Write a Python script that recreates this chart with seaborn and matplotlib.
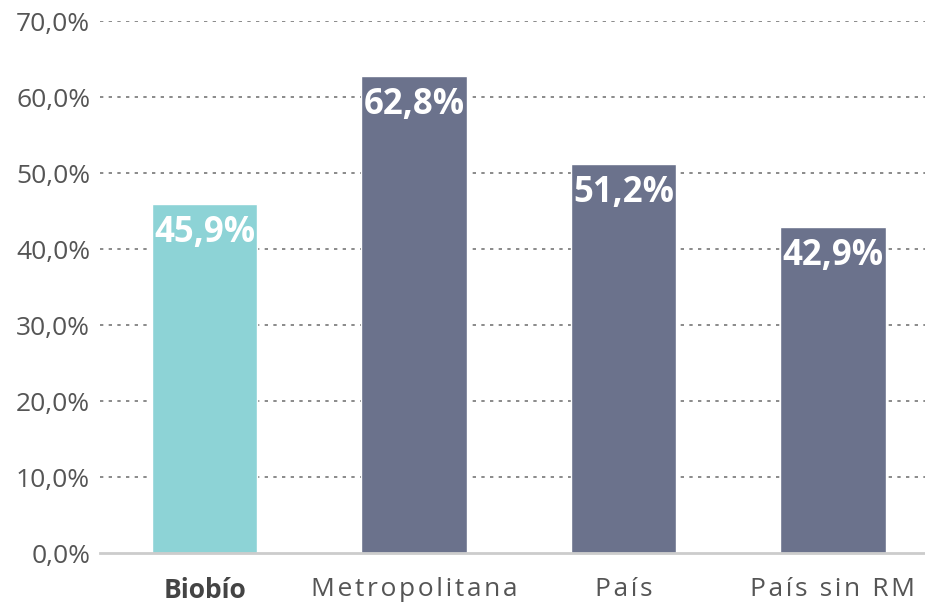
import matplotlib
matplotlib.use("Agg")
import matplotlib.pyplot as plt
import matplotlib.ticker as mticker
import seaborn as sns
import pandas as pd

# ─── Datos ────────────────────────────────────────────────────────────────────
CATEGORIAS = ["Biobío", "Metropolitana", "País", "País sin RM"]
VALORES    = [45.9, 62.8, 51.2, 42.9]
COLORES    = ["#8DD3D6", "#6B728C", "#6B728C", "#6B728C"]
TICKS_Y    = [0, 10, 20, 30, 40, 50, 60, 70]

HAIR = "\u200a"   # espacio fino para imitar el tracking del original

sns.set_theme(style="white")
plt.rcParams["font.family"] = ["Open Sans", "DejaVu Sans"]

df = pd.DataFrame({"region": CATEGORIAS, "valor": VALORES})

fig = plt.figure(figsize=(9.25, 6.04), dpi=100)
ax = fig.add_axes([0.108, 0.0844, 0.892, 0.8808])

sns.barplot(data=df, x="region", y="valor", hue="region",
            palette=COLORES, width=0.505, saturation=1,
            legend=False, ax=ax, zorder=3)

ax.set_ylim(0, 70)
ax.set_xlim(-0.5, 3.44)
ax.set_yticks(TICKS_Y)
ax.yaxis.set_major_formatter(
    mticker.FuncFormatter(lambda v, _: f"{v:.1f}%".replace(".", ",")))

# grilla punteada (sin la linea del cero)
for t in TICKS_Y[1:]:
    ax.axhline(t, color="#777777", lw=1.2, ls=(0, (2, 3.2)), zorder=1)

for s in ["top", "right", "left"]:
    ax.spines[s].set_visible(False)
ax.spines["bottom"].set_color("#cccccc")
ax.spines["bottom"].set_linewidth(2)
ax.spines["bottom"].set_zorder(4)

ax.tick_params(axis="y", length=0, pad=7, labelsize=19, labelcolor="#555555")
ax.tick_params(axis="x", length=0, pad=17, labelsize=19, labelcolor="#555555")
ax.set_xlabel("")
ax.set_ylabel("")

etiquetas = []
for c in CATEGORIAS:
    etiquetas.append(c if c == "Biobío" else HAIR.join(c))
ax.set_xticks(range(len(CATEGORIAS)))
ax.set_xticklabels(etiquetas)
for lbl in ax.get_xticklabels():
    if lbl.get_text() == "Biobío":
        lbl.set_fontweight("bold")
        lbl.set_color("#444444")

# etiquetas de valor dentro de cada barra
for i, v in enumerate(VALORES):
    ax.text(i, v - 3.8, f"{v:.1f}%".replace(".", ","),
            ha="center", va="center", color="white",
            fontsize=25, fontweight="bold", zorder=5)

fig.savefig("out.png", dpi=100)
